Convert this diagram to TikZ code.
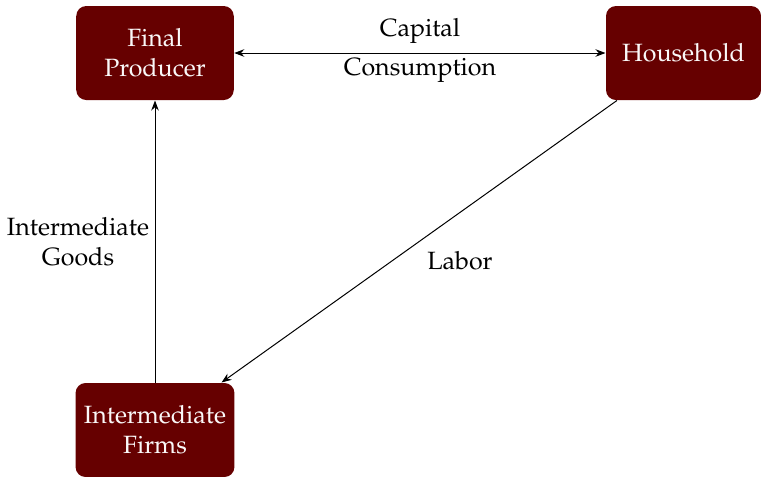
\documentclass[tikz,border=0pt]{standalone}
\usepackage[T1]{fontenc}
\usepackage{mathpazo}
\usepackage{xcolor}
\usetikzlibrary{positioning, arrows.meta}
\definecolor{EcoMaroon}{RGB}{102,0,0}
\definecolor{EcoText}{RGB}{250,248,248}

\begin{document}
\begin{tikzpicture}[x=0.4pt, y=0.4pt,
          agent/.style={rectangle, rounded corners=4pt, fill=EcoMaroon,
                        text=EcoText, minimum width=63pt, minimum height=37.6pt,
                        align=center, font=\normalsize},
          flow/.style={-{Stealth[length=4pt, width=3pt]}, draw=black, thin},
          dflow/.style={{Stealth[length=4pt, width=3pt]}-{Stealth[length=4pt, width=3pt]},
                        draw=black, thin},
          lbl/.style={align=center, font=\normalsize, text=black}
        ]
        \useasboundingbox (0,0) rectangle (761,476);

        % Agents
        \node[agent] (fp) at (155, 423) {Final\\Producer};
        \node[agent, minimum width=62pt] (hh) at (683.5, 423) {Household};
        \node[agent] (firms) at (155, 46) {Intermediate\\Firms};

        % Flows
        \draw[dflow] (fp) -- (hh);
        \draw[flow] (firms) -- (fp);
        \draw[flow] (hh) -- (firms);

        % Flow labels
        \node[lbl] (cap) at (420, 445) {Capital};
        \node[lbl] (cons) at (420, 406) {Consumption};
        \node[lbl] (goods) at (78, 234) {Intermediate\\Goods};
        \node[lbl] (labor) at (460, 215) {Labor};
      \end{tikzpicture}
\end{document}
